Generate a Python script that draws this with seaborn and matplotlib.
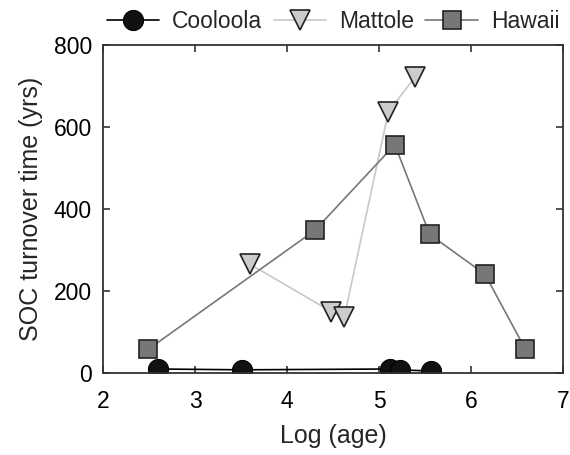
import pandas as pd
import seaborn as sns
import matplotlib.pyplot as plt

cooloola_x = [2.60, 3.51, 5.12, 5.23, 5.56]
cooloola_y = [10, 8, 10, 8, 5]

mattole_x = [3.60, 4.48, 4.62, 5.10, 5.39]
mattole_y = [265, 150, 136, 637, 722]

hawaii_x = [2.49, 4.30, 5.17, 5.55, 6.15, 6.59]
hawaii_y = [58, 348, 557, 338, 241, 58]

sns.set_style("ticks")
plt.rcParams['font.family'] = ['Liberation Sans', 'DejaVu Sans']

fig = plt.figure(figsize=(5.7, 4.55), dpi=100)
ax = fig.add_axes([0.181, 0.180, 0.807, 0.721])

sns.lineplot(x=cooloola_x, y=cooloola_y, ax=ax, color="black", lw=1.2,
             marker="o", markersize=14.5, markerfacecolor="#111111",
             markeredgecolor="black", label="Cooloola", sort=False)
sns.lineplot(x=mattole_x, y=mattole_y, ax=ax, color="#c8c8c8", lw=1.2,
             marker="v", markersize=14, markerfacecolor="#cccccc",
             markeredgecolor="#222222", markeredgewidth=1.2,
             label="Mattole", sort=False)
sns.lineplot(x=hawaii_x, y=hawaii_y, ax=ax, color="#777777", lw=1.2,
             marker="s", markersize=12.5, markerfacecolor="#777777",
             markeredgecolor="#222222", markeredgewidth=1.2,
             label="Hawaii", sort=False)

ax.set_xlim(2, 7)
ax.set_ylim(0, 800)
ax.set_xticks([2, 3, 4, 5, 6, 7])
ax.set_yticks([0, 200, 400, 600, 800])
ax.tick_params(direction="in", top=True, right=True, length=5, width=1.2,
               labelsize=16.5, colors="#333333", labelcolor="black")
ax.tick_params(axis="x", pad=12)
ax.tick_params(axis="y", pad=8)
for s in ax.spines.values():
    s.set_linewidth(1.3)
    s.set_color("#333333")

ax.set_xlabel("Log (age)", fontsize=18, labelpad=8)
ax.set_ylabel("SOC turnover time (yrs)", fontsize=18, labelpad=8)

fig.legend(*ax.get_legend_handles_labels(), loc="center",
           bbox_to_anchor=(333 / 570, 1 - 22 / 455), ncol=3,
           frameon=False, fontsize=16.5, handlelength=2.3, columnspacing=0.5,
           handletextpad=0.55, borderaxespad=0)
ax.get_legend().remove()

fig.savefig("out.png", dpi=100)
